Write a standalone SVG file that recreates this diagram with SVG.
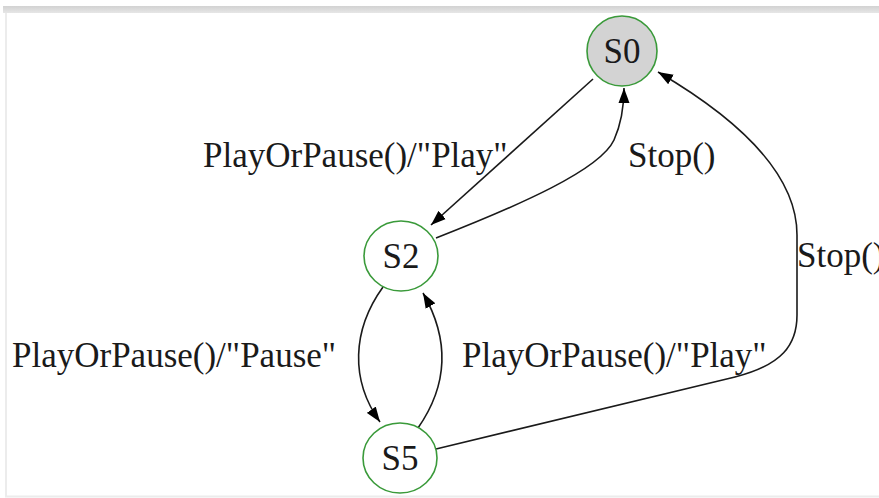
<svg xmlns="http://www.w3.org/2000/svg" width="879" height="498" viewBox="0 0 879 498">
<defs>
<linearGradient id="bar" x1="0" y1="0" x2="0" y2="1">
<stop offset="0" stop-color="#d2d2d2"/>
<stop offset="1" stop-color="#e6e6e6"/>
</linearGradient>
<marker id="arr" markerWidth="16" markerHeight="12" refX="15" refY="5.5" orient="auto" markerUnits="userSpaceOnUse" viewBox="0 0 16 11">
<path d="M0,0 L15,5.5 L0,11 Z" fill="#000"/>
</marker>
</defs>
<style>
.node{fill:#fff;stroke:#3a9a3a;stroke-width:1.6}
.start{fill:#d3d3d3}
.lbl{font-family:"Liberation Serif","Times New Roman",serif;font-size:35px;fill:#1a1a1a}
.nlbl{font-family:"Liberation Serif","Times New Roman",serif;font-size:35px;fill:#1a1a1a;text-anchor:middle}
.edge{fill:none;stroke:#1a1a1a;stroke-width:1.6;marker-end:url(#arr)}
</style>
<rect x="0" y="0" width="879" height="498" fill="#fff"/>
<rect x="3" y="6" width="876" height="7" fill="url(#bar)"/>
<rect x="5" y="13" width="2" height="484" fill="#ececec"/>
<rect x="5" y="495.5" width="874" height="2" fill="#ececec"/>
<g id="connectors">
<path class="edge" d="M593,79 L431,225"/>
<path class="edge" d="M436,238 C520,205 600,170 614,140 C622,122 624,105 624,88"/>
<path class="edge" d="M436,449 L735,377 C782,365 797,345 797,315 L797,235 C797,175 740,120 658,72"/>
<path class="edge" d="M383,287 C352,330 350,380 380,422"/>
<path class="edge" d="M418,428 C448,385 450,340 423,293"/>
</g>
<g id="S0">
<ellipse class="node start" cx="622" cy="51" rx="35" ry="35"/>
<text class="nlbl" x="622" y="63">S0</text>
</g>
<g id="S2">
<ellipse class="node" cx="401" cy="256" rx="37" ry="35"/>
<text class="nlbl" x="401" y="268">S2</text>
</g>
<g id="S5">
<ellipse class="node" cx="400" cy="458" rx="37" ry="35"/>
<text class="nlbl" x="400" y="470">S5</text>
</g>
<g id="labels">
<text class="lbl" x="203" y="167">PlayOrPause()/"Play"</text>
<text class="lbl" x="628" y="167">Stop()</text>
<text class="lbl" x="797" y="267">Stop()</text>
<text class="lbl" x="12" y="367">PlayOrPause()/"Pause"</text>
<text class="lbl" x="462" y="367">PlayOrPause()/"Play"</text>
</g>
</svg>
